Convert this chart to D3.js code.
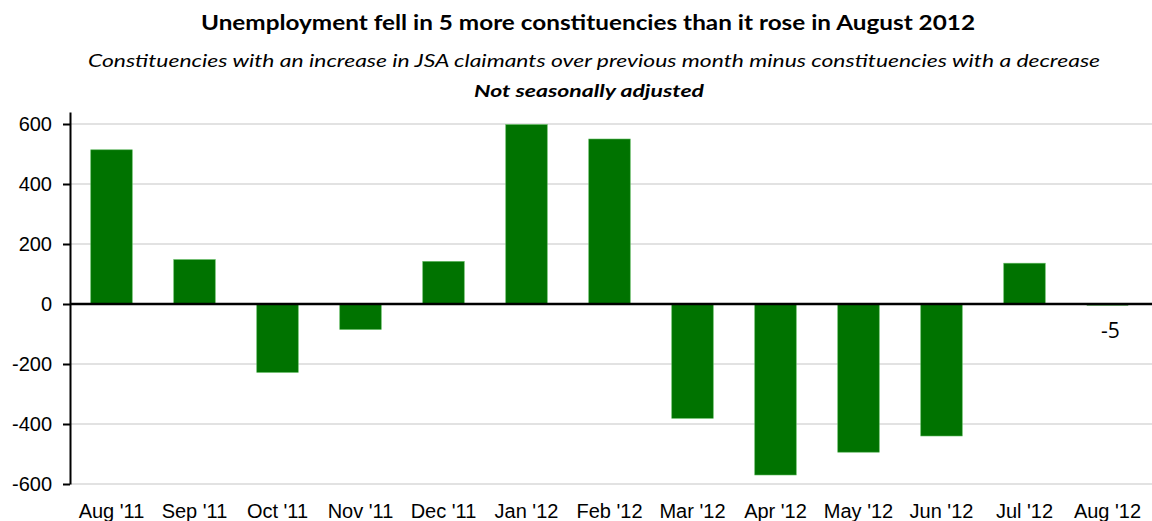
<!DOCTYPE html>
<html>
<head>
<meta charset="utf-8">
<script src="https://cdn.jsdelivr.net/npm/d3@7"></script>
<style>
  body { margin: 0; background: #fff; }
  svg { display: block; }
</style>
</head>
<body>
<svg id="chart" width="1152" height="521"></svg>
<script>
const months = ["Aug '11", "Sep '11", "Oct '11", "Nov '11", "Dec '11", "Jan '12", "Feb '12",
  "Mar '12", "Apr '12", "May '12", "Jun '12", "Jul '12", "Aug '12"]
const netRise = [514, 148, -228, -85, 142, 598, 550, -381, -570, -494, -440, 136, -5]
const yTicks = [-600, -400, -200, 0, 200, 400, 600]
const labelled = ["Aug '12"]

const svg = d3.select('#chart')
const width = +svg.attr('width')
const margin = { top: 112, left: 70, bottom: 37, right: 3 }
const plotBottom = +svg.attr('height') - margin.bottom

const x = d3.scaleBand().domain(months)
  .range([margin.left, width - margin.right])
  .paddingInner(0.5).paddingOuter(0.25)
const y = d3.scaleLinear().domain([-600, 640]).range([plotBottom, margin.top])

// titles
const titles = [
  { text: 'Unemployment fell in 5 more constituencies than it rose in August 2012', y: 30, size: 20, weight: 'bold', style: 'normal', cx: 588, len: 774 },
  { text: 'Constituencies with an increase in JSA claimants over previous month minus constituencies with a decrease', y: 67, size: 17, weight: 'normal', style: 'italic', cx: 594, len: 1012 },
  { text: 'Not seasonally adjusted', y: 97, size: 17, weight: 'bold', style: 'italic', cx: 589, len: 230 }
]
svg.selectAll('text.title').data(titles).join('text')
  .attr('class', 'title')
  .attr('x', d => d.cx).attr('y', d => d.y)
  .attr('text-anchor', 'middle')
  .attr('textLength', d => d.len).attr('lengthAdjust', 'spacingAndGlyphs')
  .style('font-family', "Lato, 'Open Sans', sans-serif")
  .style('font-size', d => d.size + 'px')
  .style('font-weight', d => d.weight)
  .style('font-style', d => d.style)
  .text(d => d.text)

// gridlines
svg.append('g').selectAll('line').data(yTicks.filter(v => v !== 0)).join('line')
  .attr('x1', margin.left).attr('x2', width)
  .attr('y1', d => y(d)).attr('y2', d => y(d))
  .attr('stroke', '#d9d9d9').attr('stroke-width', 1.5)

// bars
svg.append('g').selectAll('rect').data(months).join('rect')
  .attr('x', d => x(d))
  .attr('width', x.bandwidth())
  .attr('y', (d, i) => y(Math.max(0, netRise[i])))
  .attr('height', (d, i) => Math.abs(y(netRise[i]) - y(0)))
  .attr('fill', '#007300')
  .attr('stroke', (d, i) => Math.abs(netRise[i]) < 10 ? 'none' : '#5cb85c')
  .attr('stroke-width', 0.6)

// zero line
svg.append('line')
  .attr('x1', margin.left).attr('x2', width)
  .attr('y1', y(0)).attr('y2', y(0))
  .attr('stroke', '#000').attr('stroke-width', 2.5)

// y axis
const yAxis = svg.append('g')
  .attr('transform', `translate(${margin.left},0)`)
  .call(d3.axisLeft(y).tickValues(yTicks).tickFormat(d => String(d))
    .tickSize(7).tickPadding(11).tickSizeOuter(0))
yAxis.select('.domain').attr('stroke-width', 2)
yAxis.selectAll('.tick line').attr('stroke-width', 2)
yAxis.selectAll('.tick text')
  .attr('fill', '#000')
  .style('font-family', "'Liberation Sans', Arial, sans-serif")
  .style('font-size', '20px')

// category labels
svg.append('g').selectAll('text').data(months).join('text')
  .attr('x', d => x(d) + x.bandwidth() / 2)
  .attr('y', 518)
  .attr('text-anchor', 'middle')
  .style('font-family', "'Liberation Sans', Arial, sans-serif")
  .style('font-size', '20px')
  .text(d => d)

// data label
svg.append('g').selectAll('text').data(labelled).join('text')
  .attr('x', d => x(d) + x.bandwidth() / 2 + 3)
  .attr('y', d => y(netRise[months.indexOf(d)]) + 32)
  .attr('text-anchor', 'middle')
  .style('font-family', "'Open Sans', sans-serif")
  .style('font-size', '21px')
  .text(d => netRise[months.indexOf(d)])
</script>
</body>
</html>
